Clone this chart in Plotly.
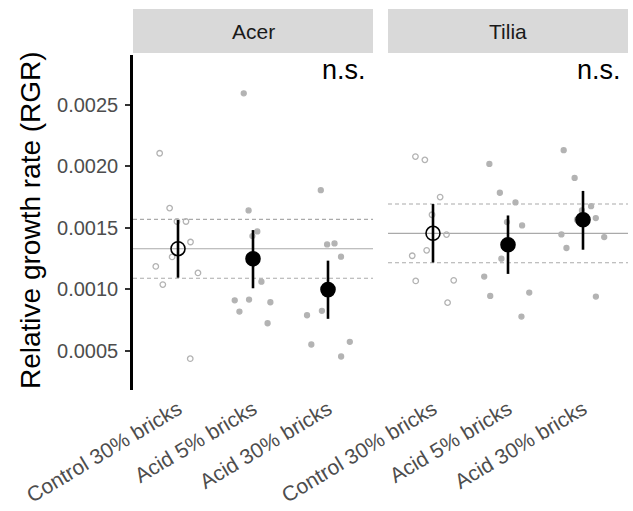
import plotly.graph_objects as go

# ---------------- data ----------------
species = ["Acer", "Tilia"]
treatments = ["Control 30% bricks", "Acid 5% bricks", "Acid 30% bricks"]

acer_control = [0.002107, 0.00166, 0.001551, 0.001551, 0.001384, 0.001262, 0.001185, 0.001132, 0.001037, 0.000433]
acer_acid5 = [0.002595, 0.001641, 0.00147, 0.001432, 0.001061, 0.000909, 0.000915, 0.000893, 0.000817, 0.000722]
acer_acid30 = [0.001806, 0.001364, 0.001372, 0.001264, 0.000787, 0.000823, 0.000549, 0.000571, 0.000451]

tilia_control = [0.00208, 0.002053, 0.00175, 0.001606, 0.001444, 0.001316, 0.001272, 0.001067, 0.001072, 0.00089]
tilia_acid5 = [0.00202, 0.001785, 0.001706, 0.001546, 0.001519, 0.001248, 0.001102, 0.000945, 0.000972, 0.000776]
tilia_acid30 = [0.002132, 0.001906, 0.001676, 0.001641, 0.001579, 0.001565, 0.001446, 0.001424, 0.001335, 0.000939]

acer_mean = [0.001329, 0.001248, 0.000996]
acer_lower = [0.001093, 0.001007, 0.000758]
acer_upper = [0.001563, 0.001481, 0.001232]

tilia_mean = [0.001455, 0.001362, 0.001565]
tilia_lower = [0.001217, 0.001124, 0.001321]
tilia_upper = [0.001693, 0.0016, 0.0018]

# control reference band (mean and CI) drawn across each panel
acer_ref = [0.001329, 0.001088, 0.001568]
tilia_ref = [0.001454, 0.001215, 0.001693]

y_ticks = [0.0005, 0.0010, 0.0015, 0.0020, 0.0025]
sig_labels = ["n.s.", "n.s."]
y_title = "Relative growth rate (RGR)"

# ---------------- layout constants ----------------
W, H = 633, 511
FONT = "Liberation Sans, Arial, sans-serif"
GREY_PT = "#b3b3b3"
panels_px = [(133, 373), (388, 628)]
plot_top, plot_bot = 55, 390
strip_top, strip_bot = 9, 53


def px(x):
    return x / W


def py(y):
    return 1 - y / H


fig = go.Figure()

raw = {
    "Acer": [acer_control, acer_acid5, acer_acid30],
    "Tilia": [tilia_control, tilia_acid5, tilia_acid30],
}
summ = {
    "Acer": (acer_mean, acer_lower, acer_upper),
    "Tilia": (tilia_mean, tilia_lower, tilia_upper),
}
refs = {"Acer": acer_ref, "Tilia": tilia_ref}

for i, sp in enumerate(species):
    xa = "x" if i == 0 else "x2"
    ya = "y" if i == 0 else "y2"
    for j, tr in enumerate(treatments):
        vals = raw[sp][j]
        is_ctrl = j == 0
        fig.add_trace(go.Box(
            x=[tr] * len(vals), y=vals,
            boxpoints="all", jitter=1.0, pointpos=0, width=0.75,
            line=dict(color="rgba(0,0,0,0)", width=0),
            fillcolor="rgba(0,0,0,0)",
            marker=dict(
                symbol="circle-open" if is_ctrl else "circle",
                size=5.5 if is_ctrl else 5,
                color=GREY_PT,
                line=dict(width=1.3, color=GREY_PT),
            ),
            xaxis=xa, yaxis=ya, showlegend=False, hoveron="points",
        ))
    m, lo, up = summ[sp]
    fig.add_trace(go.Scatter(
        x=treatments, y=m, mode="markers",
        marker=dict(
            symbol=["circle-open", "circle", "circle"],
            size=14, color="black", line=dict(width=1.6, color="black"),
        ),
        error_y=dict(
            type="data", symmetric=False,
            array=[u - v for u, v in zip(up, m)],
            arrayminus=[v - l for v, l in zip(m, lo)],
            color="black", thickness=2.6, width=0,
        ),
        xaxis=xa, yaxis=ya, showlegend=False,
    ))

    # reference lines
    r = refs[sp]
    dref = "x domain" if i == 0 else "x2 domain"
    fig.add_shape(type="line", xref=dref, yref=ya, x0=0, x1=1, y0=r[0], y1=r[0],
                  line=dict(color="#aaaaaa", width=1.1), layer="below")
    for k in (1, 2):
        fig.add_shape(type="line", xref=dref, yref=ya, x0=0, x1=1, y0=r[k], y1=r[k],
                      line=dict(color="#aaaaaa", width=1.1, dash="4px,3px"), layer="below")

    # strip
    x0, x1 = panels_px[i]
    fig.add_shape(type="rect", xref="paper", yref="paper",
                  x0=px(x0), x1=px(x1), y0=py(strip_bot), y1=py(strip_top),
                  fillcolor="#d9d9d9", line=dict(width=0), layer="below")
    fig.add_annotation(xref="paper", yref="paper", x=px((x0 + x1) / 2), y=py((strip_top + strip_bot) / 2),
                       text=sp, showarrow=False, xanchor="center", yanchor="middle",
                       font=dict(family=FONT, size=21, color="#1a1a1a"))
    # n.s.
    fig.add_annotation(xref="paper", yref="paper", x=px(x1 - 5), y=py(70),
                       text=sig_labels[i], showarrow=False, xanchor="right", yanchor="middle",
                       font=dict(family=FONT, size=27, color="black"))

# y-axis title
fig.add_annotation(xref="paper", yref="paper", x=px(30), y=py(220), text=y_title,
                   textangle=-90, showarrow=False, xanchor="center", yanchor="middle",
                   font=dict(family=FONT, size=28, color="black"))

y_range = [0.0005 - (plot_bot - 350.5) / 122750, 0.0025 + (105 - plot_top) / 122750]

xcommon = dict(
    type="category", categoryorder="array", categoryarray=treatments,
    range=[-0.6, 2.6], showgrid=False, zeroline=False, showline=False,
    ticks="", tickangle=-31, automargin=False, ticklabelstandoff=2,
    tickfont=dict(family=FONT, size=21, color="#4d4d4d"),
)
fig.update_layout(
    width=W, height=H, margin=dict(l=0, r=0, t=0, b=0),
    paper_bgcolor="white", plot_bgcolor="white",
    boxmode="overlay", showlegend=False,
    xaxis=dict(domain=[px(133), px(373)], anchor="y", **xcommon),
    xaxis2=dict(domain=[px(388), px(628)], anchor="y2", **xcommon),
    yaxis=dict(domain=[py(plot_bot), py(plot_top)], anchor="x", range=y_range,
               tickvals=y_ticks, tickformat=".4f", showgrid=False, zeroline=False,
               showline=True, linecolor="black", linewidth=2.6,
               ticks="outside", ticklen=5, tickwidth=1.5, tickcolor="#333333",
               ticklabelstandoff=3,
               tickfont=dict(family=FONT, size=20, color="#4d4d4d"), automargin=False),
    yaxis2=dict(domain=[py(plot_bot), py(plot_top)], anchor="x2", range=y_range,
                matches="y", showticklabels=False, showgrid=False, zeroline=False,
                showline=False, ticks="", automargin=False),
)

fig.write_html("out.html", post_script="document.body.style.margin='0px';",
               config={"displayModeBar": False})
